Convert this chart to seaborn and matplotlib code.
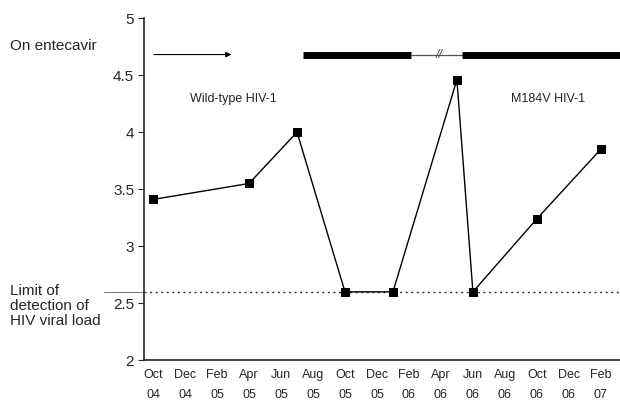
import matplotlib
matplotlib.use("Agg")
import matplotlib.pyplot as plt
import seaborn as sns
import pandas as pd

# months counted from Oct 2004
months = [0, 6, 9, 12, 15, 19, 20, 24, 28]
viral_load = [3.41, 3.55, 4.0, 2.6, 2.6, 4.46, 2.6, 3.24, 3.85]

tick_months = [0, 2, 4, 6, 8, 10, 12, 14, 16, 18, 20, 22, 24, 26, 28]
tick_labels = ["Oct\n04", "Dec\n04", "Feb\n05", "Apr\n05", "Jun\n05", "Aug\n05",
               "Oct\n05", "Dec\n05", "Feb\n06", "Apr\n06", "Jun\n06", "Aug\n06",
               "Oct\n06", "Dec\n06", "Feb\n07"]
y_ticks = [2, 2.5, 3, 3.5, 4, 4.5, 5]

detection_limit = 2.6
# treatment timeline (months)
arrow_span = [0.05, 4.9]
on_drug_1 = [9.4, 16.1]
gap_span = [16.1, 19.3]
on_drug_2 = [19.3, 30]
timeline_y = 4.68

sns.set_style("ticks")
plt.rcParams['font.family'] = ['Liberation Sans', 'DejaVu Sans']

df = pd.DataFrame({'month': months, 'load': viral_load})

fig = plt.figure(figsize=(6.2, 4.01), dpi=100)
ax = fig.add_axes([0.232, 0.1015, 0.768, 0.8535])

ax.axhline(detection_limit, color='#333333', linestyle=(0, (1.5, 2.5)), linewidth=1, zorder=1)
sns.lineplot(data=df, x='month', y='load', ax=ax, color='black', linewidth=1,
             marker='s', markersize=6, markeredgecolor='black', zorder=3)

# timeline of treatment
ax.annotate("", xy=(arrow_span[1], timeline_y), xytext=(arrow_span[0], timeline_y),
            arrowprops=dict(arrowstyle='-|>', color='black', lw=0.8,
                            mutation_scale=8, shrinkA=0, shrinkB=0))
ax.plot(on_drug_1, [timeline_y] * 2, color='black', linewidth=5, solid_capstyle='butt')
ax.plot(gap_span, [timeline_y] * 2, color='#555555', linewidth=0.9)
ax.plot(on_drug_2, [timeline_y] * 2, color='black', linewidth=5, solid_capstyle='butt')
ax.text(17.9, timeline_y, "//", ha='center', va='center', fontsize=9,
        style='italic', color='#444444')

ax.text(5.0, 4.29, "Wild-type HIV-1", ha='center', va='center', fontsize=9)
ax.text(24.7, 4.29, "M184V HIV-1", ha='center', va='center', fontsize=9)

# leader line for detection limit label
ax.plot([-3.1, -0.58], [detection_limit] * 2, color='grey', linewidth=0.8, clip_on=False)

fig.text(0.016, 0.885, "On entecavir", ha='left', va='center', fontsize=11)
fig.text(0.016, 0.237, "Limit of\ndetection of\nHIV viral load", ha='left', va='center',
         fontsize=11, linespacing=1.05)

ax.set_xlim(-0.58, 29.2)
ax.set_ylim(2, 5)
ax.set_xticks(tick_months)
ax.set_xticklabels(tick_labels, fontsize=9, linespacing=1.9)
ax.set_yticks(y_ticks)
ax.set_yticklabels([f"{v:g}" for v in y_ticks], fontsize=11)
ax.tick_params(axis='x', length=0, pad=6)
ax.tick_params(axis='y', length=4, width=0.8, pad=3)
ax.set_xlabel("")
ax.set_ylabel("")
sns.despine(ax=ax)
for s in ['left', 'bottom']:
    ax.spines[s].set_linewidth(1.2)

fig.savefig("out.png", dpi=100)
